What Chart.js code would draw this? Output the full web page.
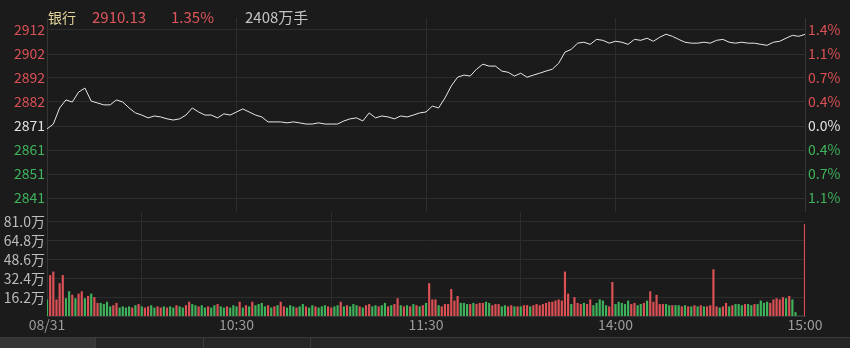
<!DOCTYPE html>
<html>
<head>
<meta charset="utf-8">
<script src="https://cdn.jsdelivr.net/npm/chart.js@4.4.1/dist/chart.umd.min.js"></script>
<style>
  html, body { margin: 0; padding: 0; background: #1b1b1b; }
  #wrap { position: relative; width: 850px; height: 348px; overflow: hidden; background: #1b1b1b;
          font-family: "Noto Sans CJK SC", "Liberation Sans", sans-serif; }
  canvas { position: absolute; left: 0; }
  .hd { position: absolute; top: 7px; font-size: 15px; line-height: 20px; white-space: nowrap; }
  #tabs { position: absolute; left: 0; top: 337px; width: 850px; height: 11px; background: #262626;
          border-top: 1px solid #3a3a3a; }
  .tab { position: absolute; top: 0; height: 11px; border-right: 1px solid #3c3c3c; }
</style>
</head>
<body>
<div id="wrap">
  <canvas id="priceChart" width="850" height="212" style="top:0"></canvas>
  <canvas id="volChart" width="850" height="136" style="top:212px"></canvas>
  <div class="hd" style="left:48px;color:#e3d49a;font-size:14px">银行</div>
  <div class="hd" style="left:92px;color:#e0565c">2910.13</div>
  <div class="hd" style="left:171px;color:#e0565c">1.35%</div>
  <div class="hd" style="left:245px;color:#c4c4c4">2408万手</div>
  <div id="tabs">
    <div class="tab" style="left:0;width:95px;background:#363636"></div>
    <div class="tab" style="left:96px;width:107px"></div>
    <div class="tab" style="left:204px;width:106px"></div>
  </div>
</div>
<script>
'use strict';

// previous close and axis step (points)
const prevClose = 2871.37;
const priceStep = 10.15;

// price every 2 minutes, 09:30 -> 11:30 / 13:00 -> 15:00 (121 points)
const prices = [
  2870.1, 2872.2, 2879.0, 2882.4, 2881.5, 2885.7, 2887.4, 2881.9, 2881.1, 2880.3,
  2880.3, 2882.4, 2881.5, 2879.0, 2876.9, 2876.0, 2874.8, 2875.6, 2875.2, 2874.4,
  2873.9, 2874.4, 2876.0, 2879.0, 2877.3, 2876.0, 2876.0, 2874.8, 2876.5, 2876.0,
  2877.3, 2878.6, 2877.3, 2876.0, 2875.2, 2873.1, 2873.1, 2873.1, 2872.7, 2873.1,
  2872.7, 2872.2, 2872.2, 2872.7, 2872.2, 2872.2, 2872.2, 2873.5, 2874.4, 2874.8,
  2873.5, 2876.9, 2874.8, 2875.6, 2875.2, 2874.4, 2875.6, 2875.2, 2876.0, 2876.9,
  2877.3, 2879.8, 2879.0, 2883.2, 2888.3, 2892.0, 2892.9, 2892.5, 2895.4, 2897.5,
  2896.7, 2896.7, 2894.6, 2894.1, 2892.5, 2893.7, 2892.0, 2892.9, 2893.7, 2894.6,
  2895.4, 2897.9, 2902.6, 2903.8, 2906.4, 2906.8, 2905.9, 2908.0, 2907.6, 2906.4,
  2907.2, 2906.8, 2905.9, 2908.0, 2907.6, 2908.5, 2907.2, 2908.9, 2910.2, 2909.3,
  2908.0, 2906.8, 2906.4, 2906.4, 2906.8, 2906.4, 2907.6, 2908.0, 2906.8, 2906.4,
  2906.8, 2906.4, 2906.4, 2905.9, 2905.5, 2906.8, 2907.2, 2908.5, 2909.7, 2909.3,
  2910.1
];

// volume per minute, in 万手 (241 bars)
const volumes = [
  14, 35, 38, 14, 28, 35, 15, 21, 18, 15, 19, 21, 15, 17, 19, 16, 11, 11, 10, 12,
  8, 9, 11, 7, 8, 7, 8, 7, 9, 10, 8, 7, 8, 9, 7, 8, 7, 8, 7, 8,
  7, 9, 8, 7, 9, 12, 10, 9, 8, 9, 7, 8, 7, 9, 10, 8, 7, 8, 7, 9,
  8, 12, 7, 9, 8, 12, 9, 10, 11, 8, 9, 7, 8, 9, 12, 8, 7, 9, 8, 7,
  8, 10, 8, 7, 9, 8, 7, 8, 9, 8, 7, 8, 9, 12, 8, 9, 8, 10, 9, 8,
  7, 9, 10, 8, 9, 8, 9, 11, 8, 9, 10, 15, 9, 8, 9, 8, 10, 9, 8, 9,
  11, 28, 14, 14, 9, 8, 10, 10, 23, 13, 17, 11, 11, 10, 10, 11, 10, 11, 11, 12,
  11, 9, 10, 10, 8, 9, 8, 9, 8, 8, 8, 9, 9, 8, 9, 10, 9, 10, 11, 12,
  12, 13, 14, 13, 38, 19, 10, 16, 11, 10, 11, 10, 14, 9, 11, 14, 13, 9, 8, 29,
  10, 12, 11, 10, 13, 10, 11, 9, 10, 11, 13, 21, 12, 18, 10, 10, 10, 9, 9, 9,
  9, 8, 9, 8, 8, 9, 8, 9, 8, 8, 9, 40, 8, 7, 8, 11, 8, 9, 10, 10,
  9, 10, 10, 9, 10, 10, 13, 11, 12, 11, 14, 15, 14, 16, 15, 17, 14, 3, 0, 0,
  79
];

// r = up minute, g = down minute
const volDir = (
  'grrrrrggrgrrgrgrrggg' +
  'grrggggrgrgrrggrrgrg' +
  'grggrrggrggrggrggrgg' +
  'grgrgrggggrgrgrrgggr' +
  'ggrggrgggrrggrgrgggr' +
  'grrggrggrgrrgrgrgrgr' +
  'grrrgrrrrrrgggrgrrrg' +
  'grrrggrrgrgrrgrrrrrr' +
  'rrrrrrgrrrgrrgggggrr' +
  'gggggrrggrgrrrrrggrg' +
  'grgrgrgrgrrrrgrrgrgg' +
  'grggrggggrrrrrgrgggg' +
  'r'
).split('');

const priceLabels = ['2912', '2902', '2892', '2882', '2871', '2861', '2851', '2841'];
const pctLabels = ['1.4%', '1.1%', '0.7%', '0.4%', '0.0%', '0.4%', '0.7%', '1.1%'];
const volTicks = [16.2, 32.4, 48.6, 64.8, 81.0];
const volLabels = ['16.2万', '32.4万', '48.6万', '64.8万', '81.0万'];
const timeTicks = [0, 60, 120, 180, 240];
const timeLabels = ['08/31', '10:30', '11:30', '14:00', '15:00'];

const RED = '#dc5156';
const GREEN = '#3fb35c';
const GRID = '#2d2d2d';
const FONT = '"Noto Sans CJK SC", "Liberation Sans", sans-serif';

// tick values, bottom to top
const priceTickValues = [];
for (let k = -3; k <= 4; k++) priceTickValues.push(prevClose + k * priceStep);
const yMin = priceTickValues[0] - priceStep * 14 / 24;
const yMax = priceTickValues[7] + priceStep * 12 / 24;

function tickColor(ctx) {
  const v = ctx.tick.value;
  if (Math.abs(v - prevClose) < 0.01) return '#e2e2e2';
  return v > prevClose ? RED : GREEN;
}

function fixTicks(values) {
  return function (scale) {
    scale.ticks = values.map(v => ({ value: v }));
  };
}

// fixed axis size, no label overflow padding
function fitTo(w, h) {
  return function (s) {
    if (w !== null) s.width = w;
    if (h !== null) s.height = h;
    s.paddingTop = 0;
    s.paddingBottom = 0;
    s.paddingLeft = 0;
    s.paddingRight = 0;
  };
}

const priceData = prices.map((p, i) => ({ x: i * 2, y: p }));

new Chart(document.getElementById('priceChart'), {
  type: 'line',
  data: {
    datasets: [{
      data: priceData,
      borderColor: '#e8e8e8',
      borderWidth: 1,
      pointRadius: 0,
      tension: 0,
      yAxisID: 'y'
    }]
  },
  options: {
    responsive: false,
    animation: false,
    events: [],
    layout: { padding: { top: 18, bottom: 0, left: 0, right: 0 } },
    plugins: { legend: { display: false }, tooltip: { enabled: false } },
    scales: {
      x: {
        type: 'linear', min: 0, max: 240,
        afterBuildTicks: fixTicks([60, 120, 180]),
        afterFit: fitTo(null, 0),
        ticks: { display: false },
        grid: { color: GRID, drawTicks: false },
        border: { display: false }
      },
      y: {
        position: 'left', min: yMin, max: yMax,
        afterBuildTicks: fixTicks(priceTickValues),
        afterFit: fitTo(47, null),
        ticks: {
          color: tickColor, padding: 2,
          font: { family: FONT, size: 14 },
          callback: (v, i) => priceLabels[priceLabels.length - 1 - i]
        },
        grid: { color: GRID, drawTicks: false },
        border: { color: '#353535' }
      },
      y2: {
        position: 'right', min: yMin, max: yMax,
        afterBuildTicks: fixTicks(priceTickValues),
        afterFit: fitTo(45, null),
        ticks: {
          color: tickColor, padding: 3,
          font: { family: FONT, size: 14 },
          callback: (v, i) => pctLabels[pctLabels.length - 1 - i]
        },
        grid: { display: false, drawTicks: false },
        border: { color: '#353535' }
      }
    }
  }
});

const volData = volumes.map((v, i) => ({ x: i, y: v }));
const volColors = volDir.map(d => (d === 'r' ? RED : GREEN));

new Chart(document.getElementById('volChart'), {
  type: 'bar',
  data: {
    datasets: [{
      data: volData,
      backgroundColor: volColors,
      barThickness: 1.5,
      borderWidth: 0
    }]
  },
  options: {
    responsive: false,
    animation: false,
    events: [],
    layout: { padding: { top: 0, bottom: 12, left: 0, right: 45 } },
    plugins: { legend: { display: false }, tooltip: { enabled: false } },
    scales: {
      x: {
        type: 'linear', min: 0, max: 240, offset: false,
        afterBuildTicks: fixTicks(timeTicks),
        afterFit: fitTo(null, 20),
        ticks: {
          color: '#9c9c9c', padding: 0, maxRotation: 0, autoSkip: false,
          font: { family: FONT, size: 14 },
          callback: (v, i) => timeLabels[i]
        },
        grid: {
          color: ctx => (ctx.index === 0 || ctx.index === 4 ? 'rgba(0,0,0,0)' : GRID),
          drawTicks: false
        },
        border: { color: '#353535' }
      },
      y: {
        position: 'left', min: 0, max: 89.6,
        afterBuildTicks: fixTicks(volTicks),
        afterFit: fitTo(47, null),
        ticks: {
          color: '#bdbdbd', padding: 2,
          font: { family: FONT, size: 14 },
          callback: (v, i) => volLabels[i]
        },
        grid: { color: GRID, drawTicks: false },
        border: { color: '#353535' }
      }
    }
  }
});
</script>
</body>
</html>
